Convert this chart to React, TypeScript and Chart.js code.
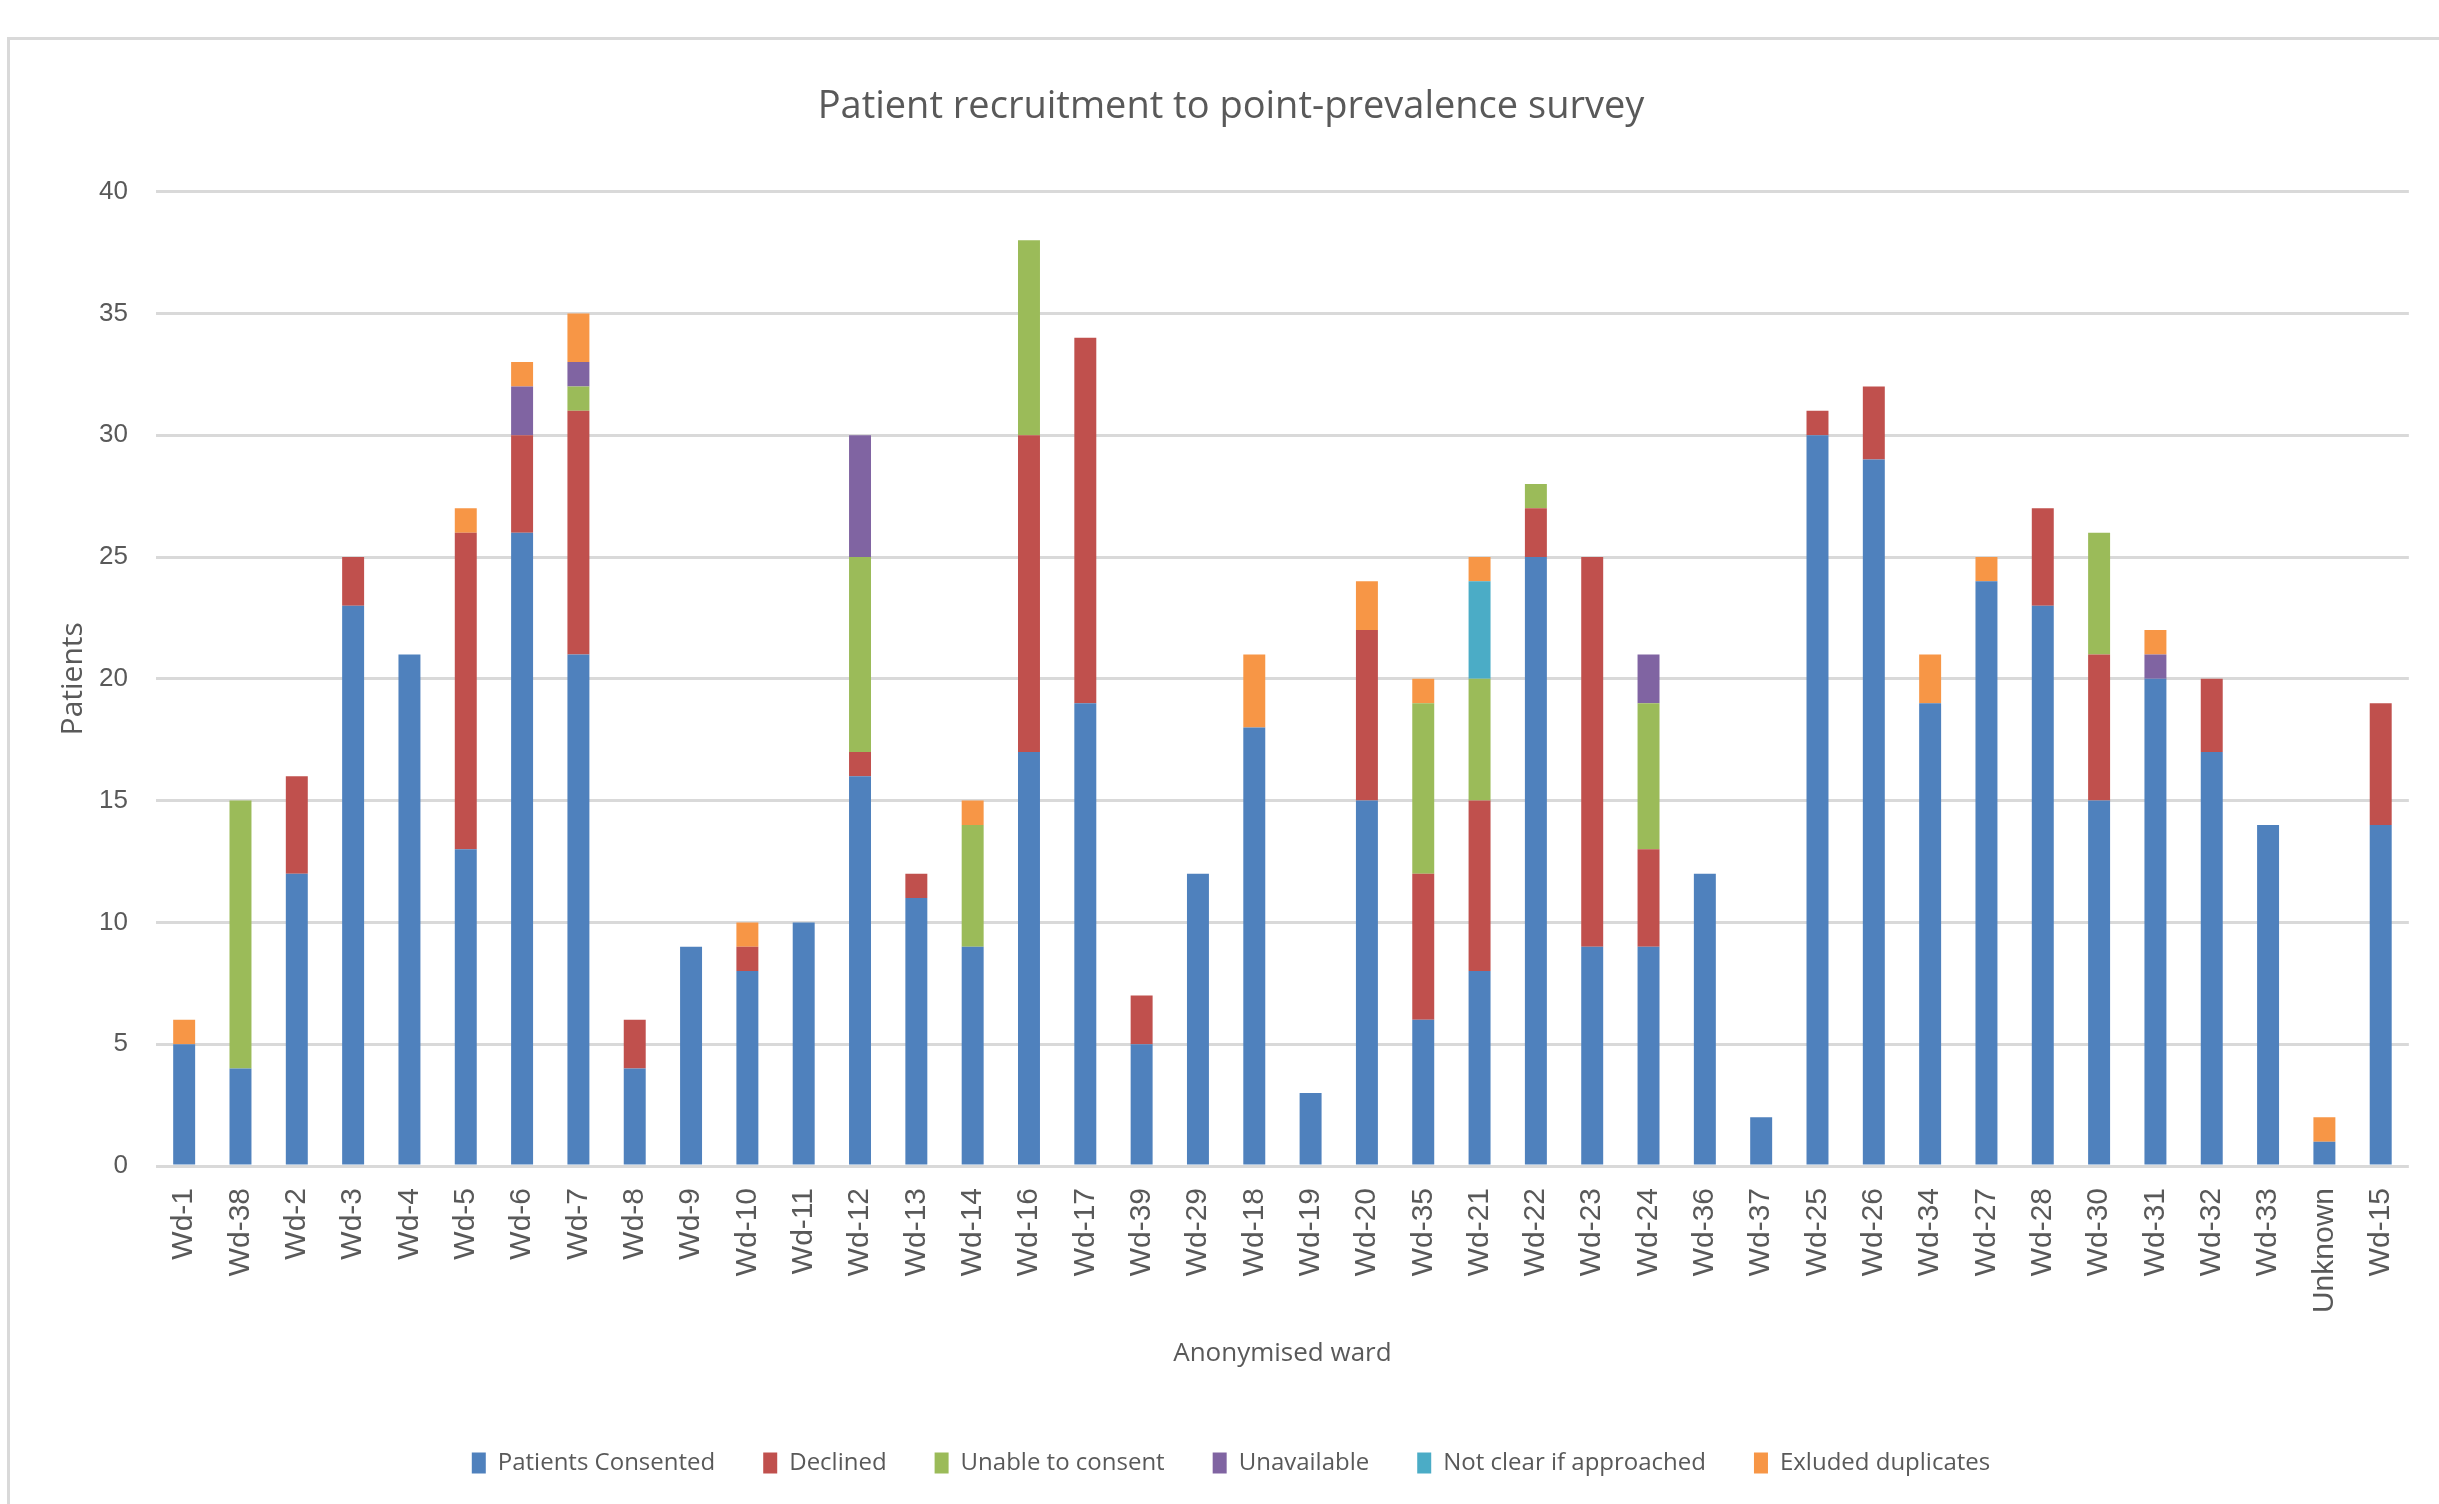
import React, { useEffect, useRef } from "react";
import { Chart, registerables } from "chart.js";

Chart.register(...registerables);

const wards = ["Wd-1","Wd-38","Wd-2","Wd-3","Wd-4","Wd-5","Wd-6","Wd-7","Wd-8","Wd-9","Wd-10","Wd-11","Wd-12","Wd-13","Wd-14","Wd-16","Wd-17","Wd-39","Wd-29","Wd-18","Wd-19","Wd-20","Wd-35","Wd-21","Wd-22","Wd-23","Wd-24","Wd-36","Wd-37","Wd-25","Wd-26","Wd-34","Wd-27","Wd-28","Wd-30","Wd-31","Wd-32","Wd-33","Unknown","Wd-15"];

const consented = [5,4,12,23,21,13,26,21,4,9,8,10,16,11,9,17,19,5,12,18,3,15,6,8,25,9,9,12,2,30,29,19,24,23,15,20,17,14,1,14];
const declined = [0,0,4,2,0,13,4,10,2,0,1,0,1,1,0,13,15,2,0,0,0,7,6,7,2,16,4,0,0,1,3,0,0,4,6,0,3,0,0,5];
const unableToConsent = [0,11,0,0,0,0,0,1,0,0,0,0,8,0,5,8,0,0,0,0,0,0,7,5,1,0,6,0,0,0,0,0,0,0,5,0,0,0,0,0];
const unavailable = [0,0,0,0,0,0,2,1,0,0,0,0,5,0,0,0,0,0,0,0,0,0,0,0,0,0,2,0,0,0,0,0,0,0,0,1,0,0,0,0];
const notClear = [0,0,0,0,0,0,0,0,0,0,0,0,0,0,0,0,0,0,0,0,0,0,0,4,0,0,0,0,0,0,0,0,0,0,0,0,0,0,0,0];
const excludedDuplicates = [1,0,0,0,0,1,1,2,0,0,1,0,0,0,1,0,0,0,0,3,0,2,1,1,0,0,0,0,0,0,0,2,1,0,0,1,0,0,1,0];

const seriesNames = ["Patients Consented","Declined","Unable to consent","Unavailable","Not clear if approached","Exluded duplicates"];
const seriesColors = ["#4F81BD","#C0504D","#9BBB59","#8064A2","#4BACC6","#F79646"];

const chartTitle = "Patient recruitment to point-prevalence survey";
const xTitle = "Anonymised ward";
const yTitle = "Patients";

const W = 2439;
const H = 1504;
const TEXT = "#595959";

export default function App() {
  const ref = useRef<HTMLCanvasElement | null>(null);

  useEffect(() => {
    const canvas = ref.current;
    if (!canvas) return;
    const seriesData = [consented, declined, unableToConsent, unavailable, notClear, excludedDuplicates];
    const chart = new Chart(canvas, {
      type: "bar",
      data: {
        labels: wards,
        datasets: seriesNames.map((name, i) => ({
          label: name,
          data: seriesData[i],
          backgroundColor: seriesColors[i],
          borderWidth: 0,
          barPercentage: 0.39,
          categoryPercentage: 1,
        })),
      },
      options: {
        responsive: false,
        animation: false,
        devicePixelRatio: 1,
        layout: { padding: { top: 0, left: 46, right: 23, bottom: 19 } },
        plugins: {
          title: {
            display: true,
            text: chartTitle,
            color: TEXT,
            font: { family: "'Open Sans', sans-serif", size: 38, weight: "normal" },
            padding: { top: 84, bottom: 62 },
          },
          legend: {
            position: "bottom",
            labels: {
              color: TEXT,
              font: { family: "'Open Sans', sans-serif", size: 24 },
              boxWidth: 14,
              boxHeight: 21,
              padding: 48,
            },
          },
          tooltip: { enabled: false },
        },
        scales: {
          x: {
            stacked: true,
            grid: { display: false, drawTicks: false },
            border: { display: false },
            ticks: {
              color: TEXT,
              font: { family: "'Liberation Sans', Arial, sans-serif", size: 30 },
              minRotation: 90,
              maxRotation: 90,
              autoSkip: false,
              padding: 22,
            },
            title: {
              display: true,
              text: xTitle,
              color: TEXT,
              font: { family: "'Open Sans', sans-serif", size: 26 },
              padding: { top: 0, bottom: 34 },
            },
            afterFit: (scale: any) => {
              scale.height = 237;
            },
          },
          y: {
            stacked: true,
            min: 0,
            max: 40,
            ticks: {
              stepSize: 5,
              color: TEXT,
              font: { family: "'Liberation Sans', Arial, sans-serif", size: 26 },
              padding: 28,
            },
            grid: { color: "#D9D9D9", lineWidth: 3, drawTicks: false },
            border: { display: false },
            title: {
              display: true,
              text: yTitle,
              color: TEXT,
              font: { family: "'Open Sans', sans-serif", size: 30 },
              padding: { top: 9, bottom: 0 },
            },
            afterFit: (scale: any) => {
              scale.width = 110;
            },
          },
        },
      },
    });
    return () => chart.destroy();
  }, []);

  return (
    <div style={{ position: "fixed", left: 0, top: 0, width: W, height: H, overflow: "hidden", background: "#fff" }}>
      <div style={{ position: "absolute", left: 7, top: 37, width: W + 100, height: H + 100, border: "3px solid #D9D9D9", boxSizing: "border-box" }} />
      <canvas ref={ref} width={W} height={H} style={{ position: "absolute", left: 0, top: 0, display: "block", width: W, height: H }} />
    </div>
  );
}
